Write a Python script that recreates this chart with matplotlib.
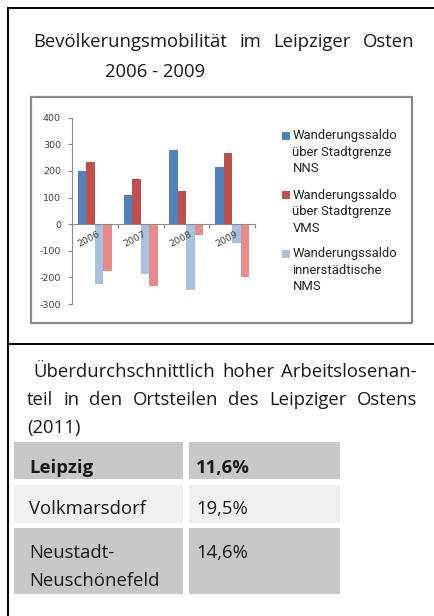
import numpy as np
import matplotlib.pyplot as plt
from matplotlib.patches import Rectangle

plt.rcParams['axes.unicode_minus'] = False

# --- chart data (Wanderungssaldo, Leipziger Osten) ---
years = ['2006', '2007', '2008', '2009']
saldo_nns_stadtgrenze = [200, 110, 277, 214]
saldo_vms_stadtgrenze = [232, 170, 123, 267]
saldo_nms_innerstadt = [-225, -187, -248, -70]
saldo_vms_innerstadt = [-175, -234, -41, -200]
series_labels = ['Wanderungssaldo\nüber Stadtgrenze\nNNS',
                 'Wanderungssaldo\nüber Stadtgrenze\nVMS',
                 'Wanderungssaldo\ninnerstädtische\nNMS',
                 'Wanderungssaldo\ninnerstädtische\nVMS']
series_colors = ['#4f81bd', '#c0504d', '#a7c1e1', '#e8898a']
y_ticks = [-300, -200, -100, 0, 100, 200, 300, 400]

# --- table data ---
ortsteile = [['Leipzig'], ['Volkmarsdorf'], ['Neustadt-', 'Neuschönefeld']]
arbeitslosenanteil = ['11,6%', '19,5%', '14,6%']

W, H = 435, 616
FONT = 'Open Sans'
fig = plt.figure(figsize=(W / 100, H / 100), dpi=100)

# background axes in pixel units (y downwards)
bg = fig.add_axes([0, 0, 1, 1], zorder=0)
bg.set_xlim(0, W)
bg.set_ylim(H, 0)
bg.axis('off')

# outer frame lines
bg.plot([8, W], [8, 8], color='black', lw=1.4)
bg.plot([8.5, 8.5], [8, H], color='black', lw=1.4)
bg.plot([8, W], [343.5, 343.5], color='black', lw=1.4)

renderer = fig.canvas.get_renderer()


def justify(words, x0, x1, y, **kw):
    texts = [bg.text(0, y, w, va='baseline', ha='left', **kw) for w in words]
    widths = [t.get_window_extent(renderer).width for t in texts]
    gap = (x1 - x0 - sum(widths)) / (len(words) - 1)
    x = x0
    for t, w in zip(texts, widths):
        t.set_x(x)
        x += w + gap


txt = dict(family=FONT, fontsize=13.3, color='#1a1a1a')
justify('Bevölkerungsmobilität im Leipziger Osten'.split(), 33, 415, 46.7, **txt)
bg.text(105, 76.7, '2006 - 2009', va='baseline', **txt)

# chart frame
bg.add_patch(Rectangle((31, 97), 381, 226, facecolor='white',
                       edgecolor='#8a8a8a', lw=1.6))

# bar chart
ax = fig.add_axes([72 / W, 1 - 304 / H, 183 / W, (304 - 117.7) / H], zorder=2)
ax.patch.set_alpha(0)
x = np.arange(len(years))
bw = 0.185
all_series = [saldo_nns_stadtgrenze, saldo_vms_stadtgrenze,
              saldo_nms_innerstadt, saldo_vms_innerstadt]
for i, vals in enumerate(all_series):
    ax.bar(x + (i - 1.5) * bw, vals, bw, color=series_colors[i], zorder=1)

ax.set_xlim(-0.5, 3.5)
ax.set_ylim(-300, 400)
ax.set_yticks(y_ticks)
for s in ['top', 'right']:
    ax.spines[s].set_visible(False)
ax.spines['left'].set_color('#8a8a8a')
ax.spines['bottom'].set_color('#8a8a8a')
ax.spines['bottom'].set_position(('data', 0))
ax.tick_params(axis='y', length=3, color='#8a8a8a', labelsize=6.8,
               labelcolor='#404040', pad=5)
ax.set_xticks(np.arange(-0.5, 4, 1))
ax.set_xticklabels([])
ax.tick_params(axis='x', which='major', length=3, color='#8a8a8a')
ax.set_xticks(x + 0.06, minor=True)
ax.set_xticklabels(years, minor=True, rotation=28, ha='right',
                   rotation_mode='anchor')
ax.tick_params(axis='x', which='minor', length=0, pad=4, labelsize=6.8,
               labelcolor='#404040')

# legend (only first three entries visible in the original)
for i in range(3):
    yc = 136 + i * 59
    bg.add_patch(Rectangle((282, yc - 4.5), 8.5, 8.5,
                           facecolor=series_colors[i], zorder=3))
    for j, line in enumerate(series_labels[i].split('\n')):
        bg.text(292.5, yc + 3.5 + j * 16.5, line, family='Roboto',
                fontsize=9.4, color='#222222', va='baseline', zorder=3)

# lower box: paragraph
justify('Überdurchschnittlich hoher Arbeitslosenan-'.split(), 33, 417, 376.7, **txt)
justify('teil in den Ortsteilen des Leipziger Ostens'.split(), 27, 417, 405, **txt)
bg.text(27, 433, '(2011)', va='baseline', **txt)

# table
row_spans = [(441.7, 479.3), (485, 522.7), (528.3, 594)]
row_colors = ['#c8c8c8', '#f0f0f0', '#c8c8c8']
col_spans = [(14, 182.7), (189, 340)]
for r, (y0, y1) in enumerate(row_spans):
    for c0, c1 in col_spans:
        bg.add_patch(Rectangle((c0, y0), c1 - c0, y1 - y0,
                               facecolor=row_colors[r], edgecolor='none'))
    weight = 'bold' if r == 0 else 'normal'
    base = y0 + 31 if r == 0 else y0 + 29.5
    for j, line in enumerate(ortsteile[r]):
        bg.text(29.5, base + j * 28.5, line, va='baseline', weight=weight, **txt)
    bg.text(196, base, arbeitslosenanteil[r], va='baseline', weight=weight, **txt)

fig.savefig('out.png', dpi=100)
